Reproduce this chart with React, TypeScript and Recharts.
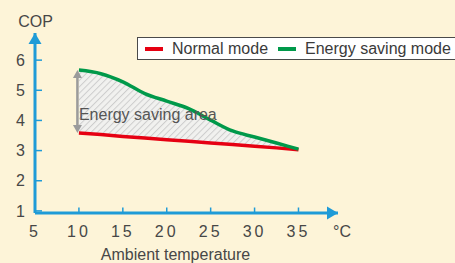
import React from 'react';
import {
    ComposedChart,
    Line,
    Area,
    XAxis,
    YAxis,
    ReferenceDot,
    ReferenceLine,
    Legend,
    Label,
} from 'recharts';

// values
const temps = [10, 12.5, 15, 17.5, 20, 22.5, 25, 27.5, 30, 32.5, 35];
const normalCop = [3.58, 3.53, 3.47, 3.42, 3.36, 3.31, 3.25, 3.2, 3.14, 3.09, 3.03];
const savingCop = [5.67, 5.55, 5.28, 4.89, 4.64, 4.39, 4.01, 3.65, 3.45, 3.25, 3.05];
const xTicks = [5, 10, 15, 20, 25, 30, 35];
const yTicks = [1, 2, 3, 4, 5, 6];
const seriesNames = ['Normal mode', 'Energy saving mode'];

const BLUE = '#1f9bd7';
const RED = '#e60012';
const GREEN = '#00994a';
const TEXT = '#474747';
const FONT = '"Liberation Sans", Arial, Helvetica, sans-serif';

const data = temps.map((t, i) => ({
    t,
    normal: normalCop[i],
    saving: savingCop[i],
    band: [normalCop[i], savingCop[i]],
}));

if (typeof document !== 'undefined') document.body.style.margin = '0';

const XArrow = (p: any) => (
    <polygon points={`${p.cx},${p.cy} ${p.cx - 11},${p.cy - 6.5} ${p.cx - 11},${p.cy + 6.5}`} fill={BLUE} />
);
const YArrow = (p: any) => (
    <polygon points={`${p.cx},${p.cy} ${p.cx - 6.5},${p.cy + 11} ${p.cx + 6.5},${p.cy + 11}`} fill={BLUE} />
);

const GapArrow = (p: any) => {
    const x = p.x1 - 1.5;
    const top = Math.min(p.y1, p.y2);
    const bot = Math.max(p.y1, p.y2);
    return (
        <g>
            <line x1={x} y1={top + 6} x2={x} y2={bot - 6} stroke="#9b9b9b" strokeWidth={2.5} />
            <polygon points={`${x},${top} ${x - 4.5},${top + 8} ${x + 4.5},${top + 8}`} fill="#9b9b9b" />
            <polygon points={`${x},${bot} ${x - 4.5},${bot - 8} ${x + 4.5},${bot - 8}`} fill="#9b9b9b" />
        </g>
    );
};

const AreaText = (p: any) => (
    <text x={p.cx} y={p.cy} fill="#555" fontSize={16} fontFamily={FONT}>
        Energy saving area
    </text>
);

const renderLegend = (props: any) => {
    const items = (props.payload || [])
        .filter((e: any) => e.type !== 'none')
        .sort((a: any, b: any) => seriesNames.indexOf(a.value) - seriesNames.indexOf(b.value));
    return (
        <div
            style={{
                display: 'flex',
                alignItems: 'center',
                boxSizing: 'border-box',
                height: 23,
                width: 330,
                border: '1px solid #4a4a4a',
                background: '#fff',
                fontFamily: FONT,
                fontSize: 16,
                color: '#3a3a3a',
                paddingLeft: 7,
            }}
        >
            {items.map((e: any, i: number) => (
                <span key={i} style={{ display: 'flex', alignItems: 'center', marginRight: 10 }}>
                    <span style={{ display: 'inline-block', width: 18, height: 4, background: e.color, marginRight: 9 }} />
                    {e.value}
                </span>
            ))}
        </div>
    );
};

export default function App() {
    return (
        <div style={{ width: 455, height: 263, background: '#fdf4d8', position: 'relative' }}>
            <ComposedChart width={455} height={263} data={data} margin={{ top: 33, right: 117, bottom: 0, left: 0 }}>
                <defs>
                    <pattern id="hatch" width="4.5" height="4.5" patternUnits="userSpaceOnUse" patternTransform="rotate(45)">
                        <rect width="4.5" height="4.5" fill="#f1f1ef" />
                        <line x1="0" y1="0" x2="0" y2="4.5" stroke="#cdcdcd" strokeWidth="2" />
                    </pattern>
                </defs>
                <XAxis
                    dataKey="t"
                    type="number"
                    domain={[5, 39.5]}
                    ticks={xTicks}
                    interval={0}
                    height={50}
                    axisLine={{ stroke: BLUE, strokeWidth: 3 }}
                    tickLine={{ stroke: BLUE, strokeWidth: 1.5 }}
                    tickSize={-5.5}
                    tickMargin={18}
                    tick={{ fill: TEXT, fontSize: 16, fontFamily: FONT, letterSpacing: 3 }}
                >
                    <Label value="Ambient temperature" position="insideBottom" offset={3} dx={-11} fill={TEXT} fontSize={16} fontFamily={FONT} />
                </XAxis>
                <YAxis
                    type="number"
                    domain={[0.93, 6.9]}
                    ticks={yTicks}
                    interval={0}
                    width={35}
                    axisLine={{ stroke: BLUE, strokeWidth: 3 }}
                    tickLine={{ stroke: BLUE, strokeWidth: 1.5 }}
                    tickSize={-7}
                    tickMargin={17}
                    tick={{ fill: TEXT, fontSize: 16, fontFamily: FONT }}
                >
                    <Label value="COP" position="top" offset={6} dx={18} fill={TEXT} fontSize={16} fontFamily={FONT} />
                </YAxis>
                <Legend
                    layout="horizontal"
                    verticalAlign="middle"
                    align="center"
                    content={renderLegend}
                    wrapperStyle={{ position: 'absolute', top: 37, left: 137, width: 330 }}
                />
                <Area
                    type="monotone"
                    dataKey="band"
                    stroke="none"
                    fill="url(#hatch)"
                    fillOpacity={1}
                    legendType="none"
                    isAnimationActive={false}
                />
                <Line
                    type="linear"
                    dataKey="normal"
                    name={seriesNames[0]}
                    stroke={RED}
                    strokeWidth={3.5}
                    dot={false}
                    isAnimationActive={false}
                />
                <Line
                    type="monotone"
                    dataKey="saving"
                    name={seriesNames[1]}
                    stroke={GREEN}
                    strokeWidth={3.5}
                    dot={false}
                    isAnimationActive={false}
                />
                <ReferenceLine
                    segment={[{ x: temps[0], y: savingCop[0] }, { x: temps[0], y: normalCop[0] }]}
                    shape={GapArrow}
                    ifOverflow="visible"
                />
                <ReferenceDot x={temps[0]} y={4.01} r={0} shape={AreaText} ifOverflow="visible" />
                <ReferenceDot x={39.5} y={0.93} r={0} shape={XArrow} ifOverflow="visible">
                    <Label value="°C" position="bottom" offset={13} dx={4} fill={TEXT} fontSize={16} fontFamily={FONT} />
                </ReferenceDot>
                <ReferenceDot x={5} y={6.9} r={0} shape={YArrow} ifOverflow="visible" />
            </ComposedChart>
        </div>
    );
}
